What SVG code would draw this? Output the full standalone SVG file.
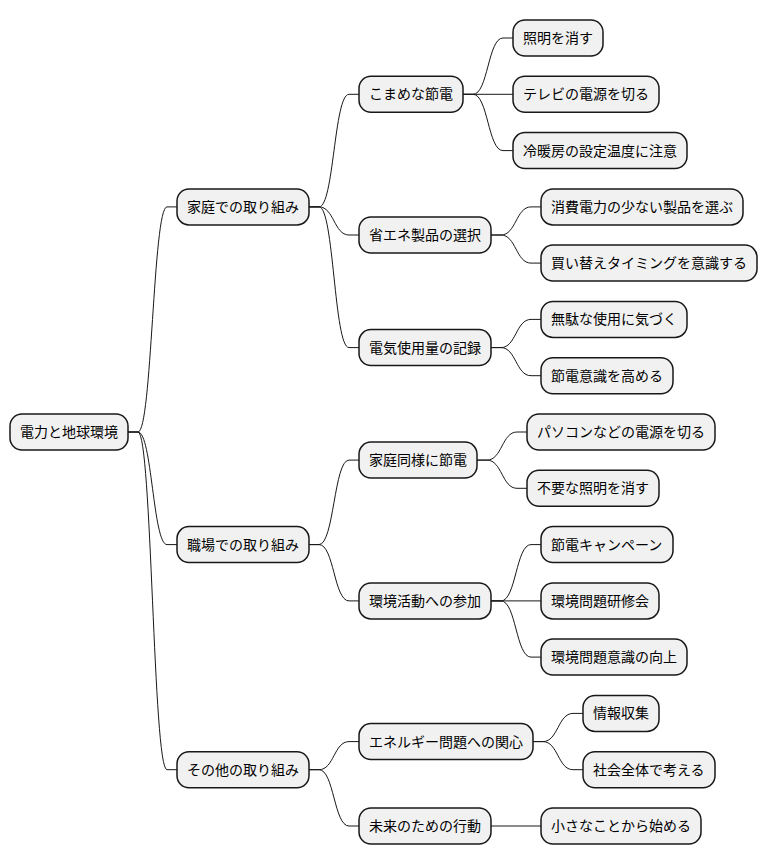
<svg xmlns="http://www.w3.org/2000/svg" width="768" height="865" viewBox="0 0 768 865">
<style>
rect{fill:#F1F1F1;stroke:#181818;stroke-width:1.5}
text{font-family:"Noto Sans CJK JP","Noto Sans CJK SC",sans-serif;font-size:14px;fill:#000}
.c path{fill:none;stroke:#181818;stroke-width:1}
</style>
<rect x="0" y="0" width="768" height="865" style="fill:#fff;stroke:none"/>
<g class="c" id="connectors">
<path d="M128,432 H138 C152,432 153,206.9 167,206.9 H177"/>
<path d="M128,432 H138 C152,432 153,544.6 167,544.6 H177"/>
<path d="M128,432 H138 C152,432 153,769.7 167,769.7 H177"/>
<path d="M309,206.9 H319 C334,206.9 334,94.3 349,94.3 H359"/>
<path d="M309,206.9 H319 C334,206.9 334,235 349,235 H359"/>
<path d="M309,206.9 H319 C334,206.9 334,347.6 349,347.6 H359"/>
<path d="M309,544.6 H319 C334,544.6 334,460.1 349,460.1 H359"/>
<path d="M309,544.6 H319 C334,544.6 334,600.9 349,600.9 H359"/>
<path d="M309,769.7 H319 C334,769.7 334,741.6 349,741.6 H359"/>
<path d="M309,769.7 H319 C334,769.7 334,826 349,826 H359"/>
<path d="M463,94.3 H473 C488,94.3 488,38 503,38 H513"/>
<path d="M463,94.3 H513"/>
<path d="M463,94.3 H473 C488,94.3 488,150.6 503,150.6 H513"/>
<path d="M491,235 H501 C516,235 516,206.9 531,206.9 H541"/>
<path d="M491,235 H501 C516,235 516,263.1 531,263.1 H541"/>
<path d="M491,347.6 H501 C516,347.6 516,319.4 531,319.4 H541"/>
<path d="M491,347.6 H501 C516,347.6 516,375.7 531,375.7 H541"/>
<path d="M477,460.1 H487 C502,460.1 502,432 517,432 H527"/>
<path d="M477,460.1 H487 C502,460.1 502,488.3 517,488.3 H527"/>
<path d="M491,600.9 H501 C516,600.9 516,544.6 531,544.6 H541"/>
<path d="M491,600.9 H541"/>
<path d="M491,600.9 H501 C516,600.9 516,657.1 531,657.1 H541"/>
<path d="M533,741.6 H543 C558,741.6 558,713.4 573,713.4 H583"/>
<path d="M533,741.6 H543 C558,741.6 558,769.7 573,769.7 H583"/>
<path d="M491,826 H541"/>
</g>
<g id="root"><rect x="10" y="414" width="118" height="36" rx="12"/><text x="20" y="437">電力と地球環境</text></g>
<g id="n1"><rect x="177" y="188.9" width="132" height="36" rx="12"/><text x="187" y="211.9">家庭での取り組み</text></g>
<g id="n2"><rect x="177" y="526.6" width="132" height="36" rx="12"/><text x="187" y="549.6">職場での取り組み</text></g>
<g id="n3"><rect x="177" y="751.7" width="132" height="36" rx="12"/><text x="187" y="774.7">その他の取り組み</text></g>
<g id="n11"><rect x="359" y="76.3" width="104" height="36" rx="12"/><text x="369" y="99.3">こまめな節電</text></g>
<g id="n12"><rect x="359" y="217" width="132" height="36" rx="12"/><text x="369" y="240">省エネ製品の選択</text></g>
<g id="n13"><rect x="359" y="329.6" width="132" height="36" rx="12"/><text x="369" y="352.6">電気使用量の記録</text></g>
<g id="n21"><rect x="359" y="442.1" width="118" height="36" rx="12"/><text x="369" y="465.1">家庭同様に節電</text></g>
<g id="n22"><rect x="359" y="582.9" width="132" height="36" rx="12"/><text x="369" y="605.9">環境活動への参加</text></g>
<g id="n31"><rect x="359" y="723.6" width="174" height="36" rx="12"/><text x="369" y="746.6">エネルギー問題への関心</text></g>
<g id="n32"><rect x="359" y="808" width="132" height="36" rx="12"/><text x="369" y="831">未来のための行動</text></g>
<g id="l0"><rect x="513" y="20" width="90" height="36" rx="12"/><text x="523" y="43">照明を消す</text></g>
<g id="l1"><rect x="513" y="76.3" width="146" height="36" rx="12"/><text x="523" y="99.3">テレビの電源を切る</text></g>
<g id="l2"><rect x="513" y="132.6" width="174" height="36" rx="12"/><text x="523" y="155.6">冷暖房の設定温度に注意</text></g>
<g id="l3"><rect x="541" y="188.9" width="202" height="36" rx="12"/><text x="551" y="211.9">消費電力の少ない製品を選ぶ</text></g>
<g id="l4"><rect x="541" y="245.1" width="216" height="36" rx="12"/><text x="551" y="268.1">買い替えタイミングを意識する</text></g>
<g id="l5"><rect x="541" y="301.4" width="146" height="36" rx="12"/><text x="551" y="324.4">無駄な使用に気づく</text></g>
<g id="l6"><rect x="541" y="357.7" width="132" height="36" rx="12"/><text x="551" y="380.7">節電意識を高める</text></g>
<g id="l7"><rect x="527" y="414" width="188" height="36" rx="12"/><text x="537" y="437">パソコンなどの電源を切る</text></g>
<g id="l8"><rect x="527" y="470.3" width="132" height="36" rx="12"/><text x="537" y="493.3">不要な照明を消す</text></g>
<g id="l9"><rect x="541" y="526.6" width="132" height="36" rx="12"/><text x="551" y="549.6">節電キャンペーン</text></g>
<g id="l10"><rect x="541" y="582.9" width="118" height="36" rx="12"/><text x="551" y="605.9">環境問題研修会</text></g>
<g id="l11"><rect x="541" y="639.1" width="146" height="36" rx="12"/><text x="551" y="662.1">環境問題意識の向上</text></g>
<g id="l12"><rect x="583" y="695.4" width="76" height="36" rx="12"/><text x="593" y="718.4">情報収集</text></g>
<g id="l13"><rect x="583" y="751.7" width="132" height="36" rx="12"/><text x="593" y="774.7">社会全体で考える</text></g>
<g id="l14"><rect x="541" y="808" width="160" height="36" rx="12"/><text x="551" y="831">小さなことから始める</text></g>
</svg>
